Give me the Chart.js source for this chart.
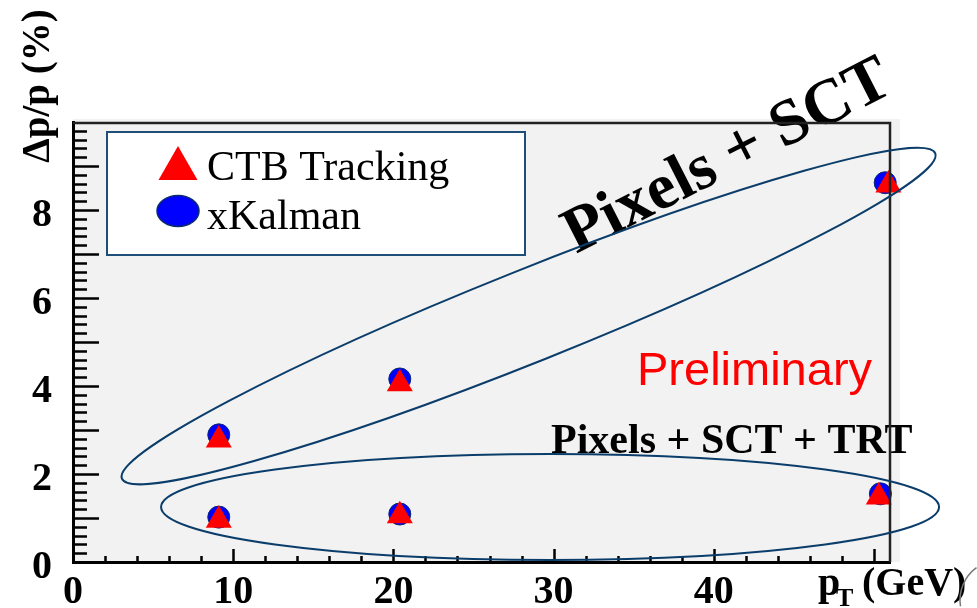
<!DOCTYPE html>
<html>
<head>
<meta charset="utf-8">
<script src="https://cdn.jsdelivr.net/npm/chart.js@4.4.0/dist/chart.umd.min.js"></script>
<style>
  html, body { margin: 0; padding: 0; background: #fff; }
  canvas { display: block; }
</style>
</head>
<body>
<canvas id="resChart" width="977" height="608"></canvas>
<script>
// momentum resolution vs pT, CTB tracking and xKalman
const ctbPt  = [9.1, 20.4, 50.9, 9.1, 20.4, 50.3];
const ctbRes = [2.77, 4.05, 8.57, 0.95, 1.05, 1.48];
const xkPt   = [9.1, 20.4, 50.7, 9.1, 20.4, 50.4];
const xkRes  = [2.89, 4.16, 8.62, 1.02, 1.09, 1.55];

const seriesNames = ['CTB Tracking', 'xKalman'];
const xTickLabels = [0, 10, 20, 30, 40];
const yTickLabels = [0, 2, 4, 6, 8];

const SERIF = '"Liberation Serif", "DejaVu Serif", serif';

function toPoints(xs, ys) {
    return xs.map((x, i) => ({ x: x, y: ys[i] }));
}

const decor = {
    id: 'decor',
    beforeDraw(chart) {
        const { ctx, chartArea: a } = chart;
        ctx.save();
        ctx.fillStyle = '#fff';
        ctx.fillRect(0, 0, chart.width, chart.height);
        ctx.fillStyle = '#f2f2f2';
        ctx.fillRect(a.left, a.top - 3, a.right - a.left + 10, a.bottom - a.top + 3);
        ctx.restore();
    },
    afterDatasetsDraw(chart) {
        const { ctx, chartArea: a, scales: { x, y } } = chart;
        ctx.save();

        // inward tick marks
        ctx.strokeStyle = '#000';
        ctx.lineWidth = 2.5;
        ctx.beginPath();
        for (let i = 1; i < 50; i++) {
            const py = Math.round(y.getPixelForValue(i / 5)) + 0.5;
            const len = i % 5 === 0 ? 26 : 14;
            ctx.moveTo(a.left, py);
            ctx.lineTo(a.left + len, py);
        }
        for (let v = 2; v <= 50; v += 2) {
            const px = Math.round(x.getPixelForValue(v)) + 0.5;
            const len = v % 10 === 0 ? 13 : 6;
            ctx.moveTo(px, a.bottom);
            ctx.lineTo(px, a.bottom - len);
        }
        ctx.stroke();

        // group labels
        ctx.fillStyle = 'red';
        ctx.font = '47px "Liberation Sans", Arial, sans-serif';
        ctx.textBaseline = 'alphabetic';
        ctx.fillText('Preliminary', 637, 385);

        ctx.fillStyle = '#000';
        ctx.font = 'bold 42px ' + SERIF;
        ctx.fillText('Pixels + SCT + TRT', 551, 453);

        ctx.save();
        ctx.translate(576, 254);
        ctx.rotate(-27 * Math.PI / 180);
        ctx.font = 'bold 65px ' + SERIF;
        ctx.fillText('Pixels + SCT', 0, 0);
        ctx.restore();

        // outer frame, top and right
        ctx.strokeStyle = '#222';
        ctx.lineWidth = 2.5;
        ctx.beginPath();
        ctx.moveTo(a.left, a.top + 1);
        ctx.lineTo(a.right, a.top + 1);
        ctx.lineTo(a.right, a.bottom);
        ctx.stroke();

        // selection ellipses
        ctx.strokeStyle = '#0b3d6b';
        ctx.lineWidth = 2;
        ctx.beginPath();
        ctx.ellipse(x.getPixelForValue(28.44), y.getPixelForValue(5.59), 438, 46,
            -21.8 * Math.PI / 180, 0, Math.PI * 2);
        ctx.stroke();
        ctx.beginPath();
        ctx.ellipse(x.getPixelForValue(29.78), y.getPixelForValue(1.25), 389, 53,
            0, 0, Math.PI * 2);
        ctx.stroke();

        ctx.restore();
    },
    afterDraw(chart) {
        const { ctx } = chart;
        const ds = chart.data.datasets;
        ctx.save();

        // legend box
        ctx.fillStyle = '#fff';
        ctx.fillRect(107, 132, 418, 123);
        ctx.strokeStyle = '#1f4e79';
        ctx.lineWidth = 2;
        ctx.strokeRect(107, 132, 418, 123);

        ctx.fillStyle = ds[0].backgroundColor;
        ctx.beginPath();
        ctx.moveTo(178, 146);
        ctx.lineTo(197.5, 180);
        ctx.lineTo(158.5, 180);
        ctx.closePath();
        ctx.fill();

        ctx.fillStyle = ds[1].backgroundColor;
        ctx.strokeStyle = ds[1].borderColor;
        ctx.lineWidth = 1.5;
        ctx.beginPath();
        ctx.ellipse(178, 211, 21, 15.5, 0, 0, Math.PI * 2);
        ctx.fill();
        ctx.stroke();

        ctx.fillStyle = '#000';
        ctx.font = '42px ' + SERIF;
        ctx.textBaseline = 'alphabetic';
        ctx.fillText(ds[0].label, 207, 180);
        ctx.fillText(ds[1].label, 207, 229);

        // axis titles
        ctx.font = 'bold 40px ' + SERIF;
        ctx.fillText('p', 818, 595);
        ctx.font = 'bold 26px ' + SERIF;
        ctx.fillText('T', 836, 606);
        ctx.font = 'bold 40px ' + SERIF;
        ctx.fillText('(GeV)', 862, 595);

        ctx.save();
        ctx.translate(49, 86);
        ctx.rotate(-Math.PI / 2);
        ctx.textAlign = 'center';
        ctx.font = 'bold 39px ' + SERIF;
        ctx.fillText('\u0394p/p (%)', 0, 0);
        ctx.restore();

        // pencil sketch at the corner
        ctx.strokeStyle = '#777';
        ctx.lineWidth = 1.5;
        ctx.beginPath();
        ctx.arc(1000, 600, 40, Math.PI * 0.95, Math.PI * 1.3);
        ctx.stroke();

        ctx.restore();
    }
};

const chart = new Chart(document.getElementById('resChart'), {
    type: 'scatter',
    data: {
        datasets: [{
            label: seriesNames[0],
            data: toPoints(ctbPt, ctbRes),
            pointStyle: 'triangle',
            pointRadius: 15,
            backgroundColor: '#ff0000',
            borderColor: '#ff0000',
            borderWidth: 0,
            clip: false
        }, {
            label: seriesNames[1],
            data: toPoints(xkPt, xkRes),
            pointStyle: 'circle',
            pointRadius: 11,
            backgroundColor: '#0000ff',
            borderColor: '#0a2a6e',
            borderWidth: 1,
            clip: false
        }]
    },
    options: {
        responsive: false,
        animation: false,
        devicePixelRatio: 1,
        layout: { padding: { top: 122, right: 87, left: 0, bottom: 0 } },
        plugins: { legend: { display: false }, tooltip: { enabled: false } },
        scales: {
            x: {
                type: 'linear',
                min: 0,
                max: 51,
                afterFit: s => { s.height = 46; },
                grid: { drawOnChartArea: false, drawTicks: false },
                border: { display: true, color: '#000', width: 3 },
                ticks: {
                    stepSize: 2,
                    autoSkip: false,
                    maxRotation: 0,
                    padding: 7,
                    color: '#000',
                    font: { family: SERIF, size: 40, weight: 'bold' },
                    callback: v => xTickLabels.includes(v) ? v : ''
                }
            },
            y: {
                type: 'linear',
                min: 0,
                max: 10,
                afterFit: s => { s.width = 73; },
                grid: { drawOnChartArea: false, drawTicks: false },
                border: { display: true, color: '#000', width: 3 },
                ticks: {
                    stepSize: 1,
                    autoSkip: false,
                    padding: 21,
                    labelOffset: 6,
                    color: '#000',
                    font: { family: SERIF, size: 40, weight: 'bold' },
                    callback: v => yTickLabels.includes(v) ? v : ''
                }
            }
        }
    },
    plugins: [decor]
});
</script>
</body>
</html>
